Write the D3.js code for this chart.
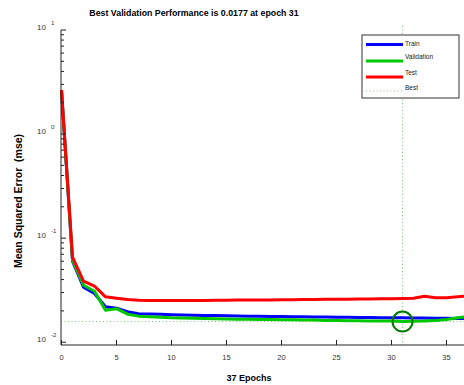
<!DOCTYPE html>
<html>
<head>
<meta charset="utf-8">
<script src="https://cdn.jsdelivr.net/npm/d3@7"></script>
<style>
  body { margin: 0; background: #fff; }
  text { font-family: "Liberation Sans", Arial, sans-serif; }
</style>
</head>
<body>
<script>
const width = 464;
const height = 385;

// performance per epoch (0..37)
const epochs = d3.range(0, 38);
const trainPerf = [2.65, 0.0601, 0.0338, 0.0294, 0.0219, 0.0212, 0.0196, 0.0188, 0.0187, 0.0186,
  0.0184, 0.0183, 0.0182, 0.0181, 0.0181, 0.0180, 0.0179, 0.0178, 0.0178, 0.0177,
  0.0177, 0.0176, 0.0176, 0.0175, 0.0175, 0.0174, 0.0174, 0.0173, 0.0173, 0.0172,
  0.0172, 0.0172, 0.0171, 0.0171, 0.0170, 0.0170, 0.0169, 0.0169];
const valPerf = [2.65, 0.0614, 0.0353, 0.0309, 0.0203, 0.0210, 0.0186, 0.0178, 0.0176, 0.0174,
  0.0172, 0.0171, 0.0170, 0.0169, 0.0168, 0.0167, 0.0166, 0.0166, 0.0165, 0.0165,
  0.0164, 0.0164, 0.0163, 0.0163, 0.0162, 0.0162, 0.0161, 0.0161, 0.0160, 0.0160,
  0.0160, 0.0158, 0.0159, 0.0160, 0.0162, 0.0165, 0.0172, 0.0176];
const testPerf = [2.65, 0.0657, 0.0386, 0.0346, 0.0273, 0.0265, 0.0257, 0.0253, 0.0252, 0.0252,
  0.0252, 0.0252, 0.0252, 0.0252, 0.0253, 0.0253, 0.0254, 0.0254, 0.0255, 0.0255,
  0.0256, 0.0256, 0.0257, 0.0257, 0.0258, 0.0259, 0.0259, 0.0260, 0.0260, 0.0261,
  0.0262, 0.0263, 0.0265, 0.0277, 0.0268, 0.0268, 0.0274, 0.0277];
const bestEpoch = 31;
const bestPerf = 0.0158;

const xTicks = [0, 5, 10, 15, 20, 25, 30, 35];
const yDecades = [-2, -1, 0, 1];

const x = d3.scaleLinear().domain([0, 37]).range([61.5, 468.5]);
const y = d3.scaleLog().domain([0.0094, 10]).range([345, 30]);

const svg = d3.select("body").append("svg")
  .attr("width", width)
  .attr("height", height);

const bestColor = "#7cc47c";

// best markers (dotted)
svg.append("line")
  .attr("x1", x(bestEpoch)).attr("x2", x(bestEpoch))
  .attr("y1", 26).attr("y2", 345)
  .attr("stroke", bestColor).attr("stroke-width", 1)
  .attr("stroke-dasharray", "1,2.5");
svg.append("line")
  .attr("x1", 61).attr("x2", width)
  .attr("y1", y(bestPerf)).attr("y2", y(bestPerf))
  .attr("stroke", bestColor).attr("stroke-width", 1)
  .attr("stroke-dasharray", "1,2.5");

// series
const series = [
  { name: "Train", values: trainPerf, color: "#0000ff" },
  { name: "Validation", values: valPerf, color: "#00c800" },
  { name: "Test", values: testPerf, color: "#ff0000" },
];
const line = d3.line()
  .x((d, i) => x(epochs[i]))
  .y(d => y(d));

series.forEach(s => {
  svg.append("path")
    .datum(s.values)
    .attr("fill", "none")
    .attr("stroke", s.color)
    .attr("stroke-width", 3)
    .attr("stroke-linejoin", "round")
    .attr("d", line);
});

// best circle
svg.append("circle")
  .attr("cx", x(bestEpoch)).attr("cy", y(bestPerf))
  .attr("r", 10)
  .attr("fill", "none")
  .attr("stroke", "#007a00")
  .attr("stroke-width", 2);

// axes
const axisColor = "#222";
svg.append("line")
  .attr("x1", 61).attr("x2", 61).attr("y1", 30).attr("y2", 345)
  .attr("stroke", axisColor);
svg.append("line")
  .attr("x1", 61).attr("x2", width).attr("y1", 345).attr("y2", 345)
  .attr("stroke", axisColor);

// y ticks (major + minor)
yDecades.forEach(p => {
  const base = Math.pow(10, p);
  const yy = y(base);
  svg.append("line").attr("x1", 61).attr("x2", 66)
    .attr("y1", yy).attr("y2", yy).attr("stroke", axisColor);
  const lbl = svg.append("g");
  lbl.append("text").attr("x", 46).attr("y", yy - 0.5)
    .attr("text-anchor", "end").attr("font-size", 8).attr("fill", "#333")
    .text("10");
  lbl.append("text").attr("x", 51).attr("y", yy - 5)
    .attr("font-size", 6).attr("fill", "#333")
    .text(p);
  if (p < 1) {
    for (let m = 2; m <= 9; m++) {
      const ym = y(base * m);
      svg.append("line").attr("x1", 61).attr("x2", 64)
        .attr("y1", ym).attr("y2", ym).attr("stroke", axisColor);
    }
  }
});

// x ticks
xTicks.forEach(t => {
  svg.append("line").attr("x1", x(t)).attr("x2", x(t))
    .attr("y1", 345).attr("y2", 340).attr("stroke", axisColor);
  svg.append("text").attr("x", x(t)).attr("y", 360)
    .attr("text-anchor", "middle").attr("font-size", 7.5).attr("fill", "#333")
    .text(t);
});

// labels
svg.append("text").attr("x", 194).attr("y", 16)
  .attr("text-anchor", "middle").attr("font-size", 8.8).attr("font-weight", "bold")
  .text("Best Validation Performance is 0.0177 at epoch 31");
svg.append("text").attr("x", 249).attr("y", 381)
  .attr("text-anchor", "middle").attr("font-size", 9).attr("font-weight", "bold")
  .text("37 Epochs");
svg.append("text")
  .attr("transform", "translate(22,201) rotate(-90)")
  .attr("text-anchor", "middle").attr("font-size", 10.5).attr("font-weight", "bold")
  .attr("xml:space", "preserve")
  .text("Mean Squared Error  (mse)");

// legend
const legend = svg.append("g");
legend.append("rect")
  .attr("x", 362).attr("y", 35).attr("width", 97).attr("height", 63)
  .attr("fill", "#fff").attr("stroke", "#333").attr("stroke-width", 1);
const legendItems = series.concat([{ name: "Best", color: bestColor, dotted: true }]);
const legendY = [44.5, 61, 77, 91];
const legendTextY = [45.5, 59, 75, 90];
legendItems.forEach((s, i) => {
  legend.append("line")
    .attr("x1", 366).attr("x2", 403)
    .attr("y1", legendY[i]).attr("y2", legendY[i])
    .attr("stroke", s.color)
    .attr("stroke-width", s.dotted ? 1 : 3)
    .attr("stroke-dasharray", s.dotted ? "1,2.5" : null);
  legend.append("text")
    .attr("x", 405).attr("y", legendTextY[i])
    .attr("font-size", 6.5).attr("fill", "#222")
    .text(s.name);
});
</script>
</body>
</html>
